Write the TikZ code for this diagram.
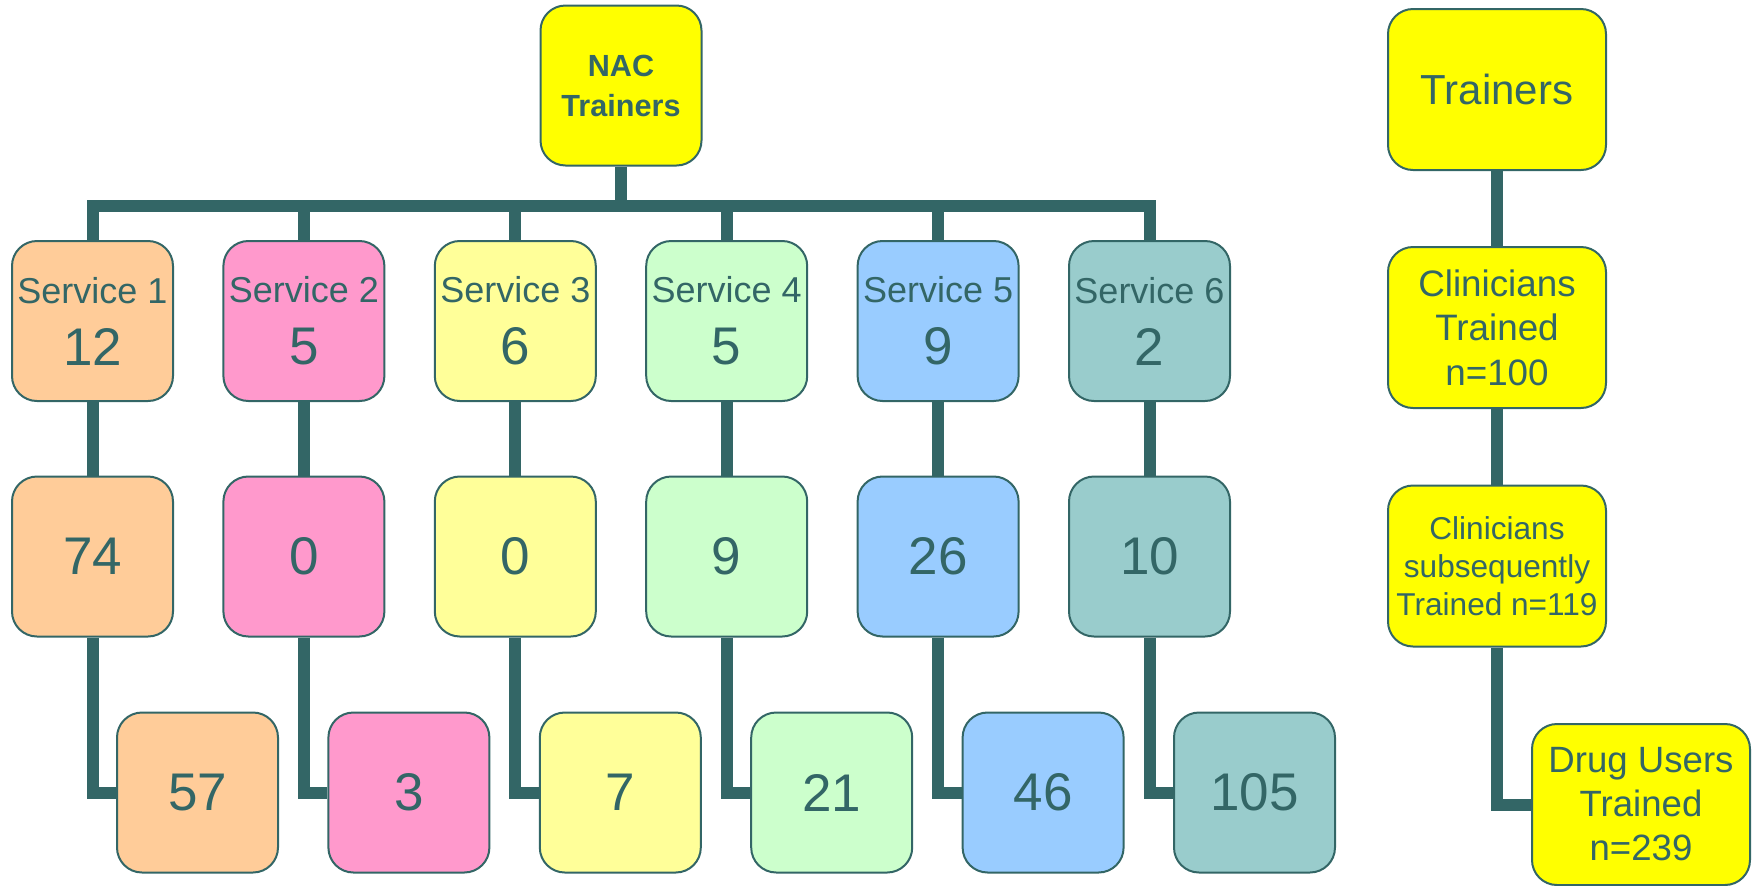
\documentclass[tikz,border=0pt]{standalone}
\usepackage{fontspec}
\setmainfont{Liberation Sans}
\usetikzlibrary{backgrounds}
\definecolor{ink}{HTML}{336666}
\definecolor{cOrange}{HTML}{FFCC99}
\definecolor{cPink}{HTML}{FF99CC}
\definecolor{cLYellow}{HTML}{FFFF99}
\definecolor{cGreen}{HTML}{CCFFCC}
\definecolor{cBlue}{HTML}{99CCFF}
\definecolor{cTeal}{HTML}{99CCCC}
\definecolor{cYellow}{HTML}{FFFF00}
\tikzset{
  box/.style={draw=ink, line width=1pt, rounded corners=12.5pt, text=ink,
    minimum width=80.5pt, minimum height=80pt, inner sep=0pt, align=center},
  numbox/.style={box, font=\fontsize{26.5}{31}\selectfont},
  rbox/.style={box, fill=cYellow, minimum width=109pt, minimum height=80.5pt},
  conn/.style={draw=ink, line width=6pt, line join=miter}
}
\newcommand{\svc}[2]{{\fontsize{18}{31}\selectfont Service #1}\\#2}
\begin{document}
\begin{tikzpicture}[x=0.5pt,y=-0.5pt]
\useasboundingbox (0,0) rectangle (1752,885);
% top
\node[box, fill=cYellow, font=\bfseries\fontsize{15.3}{20}\selectfont] (nac) at (621,85.5) {NAC\\Trainers};
% services
\node[numbox, fill=cOrange]  (s1) at (92.5,321) {\svc{1}{12}};
\node[numbox, fill=cPink]    (s2) at (303.9,321) {\svc{2}{5}};
\node[numbox, fill=cLYellow] (s3) at (515.3,321) {\svc{3}{6}};
\node[numbox, fill=cGreen]   (s4) at (726.7,321) {\svc{4}{5}};
\node[numbox, fill=cBlue]    (s5) at (938.1,321) {\svc{5}{9}};
\node[numbox, fill=cTeal]    (s6) at (1149.5,321) {\svc{6}{2}};
% row 2
\node[numbox, fill=cOrange]  (a1) at (92.5,556.5) {74};
\node[numbox, fill=cPink]    (a2) at (303.9,556.5) {0};
\node[numbox, fill=cLYellow] (a3) at (515.3,556.5) {0};
\node[numbox, fill=cGreen]   (a4) at (726.7,556.5) {9};
\node[numbox, fill=cBlue]    (a5) at (938.1,556.5) {26};
\node[numbox, fill=cTeal]    (a6) at (1149.5,556.5) {10};
% row 3
\node[numbox, fill=cOrange]  (b1) at (197.5,792.5) {57};
\node[numbox, fill=cPink]    (b2) at (408.9,792.5) {3};
\node[numbox, fill=cLYellow] (b3) at (620.3,792.5) {7};
\node[numbox, fill=cGreen]   (b4) at (831.7,792.5) {21};
\node[numbox, fill=cBlue]    (b5) at (1043.1,792.5) {46};
\node[numbox, fill=cTeal]    (b6) at (1254.5,792.5) {105};
% right column
\node[rbox, font=\fontsize{21}{25}\selectfont] (t) at (1497,89.5) {Trainers};
\node[rbox, font=\fontsize{18.4}{22.3}\selectfont] (c1) at (1497,327.5) {Clinicians\\Trained\\n=100};
\node[rbox, font=\fontsize{15.8}{19}\selectfont] (c2) at (1497,566) {Clinicians\\subsequently\\Trained n=119};
\node[rbox, font=\fontsize{18.3}{22}\selectfont] (d) at (1641,804.5) {Drug Users\\Trained\\n=239};
\coordinate (bar) at (621,206);
\begin{pgfonlayer}{background}
\draw[conn] (s1.north) |- (bar) -| (s6.north);
\draw[conn] (nac.south) -- (bar);
\foreach \i in {2,3,4,5} { \draw[conn] (s\i.north) |- (bar); }
\foreach \i in {1,...,6} {
  \draw[conn] (s\i.south) -- (a\i.north);
  \draw[conn] (a\i.south) |- (b\i.west);
}
\draw[conn] (t.south) -- (c1.north);
\draw[conn] (c1.south) -- (c2.north);
\draw[conn] (c2.south) |- (d.west);
\end{pgfonlayer}
\end{tikzpicture}
\end{document}
